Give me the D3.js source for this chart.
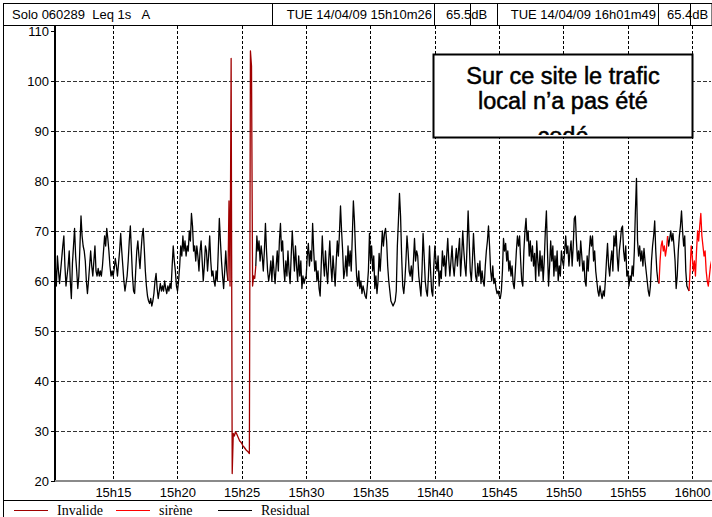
<!DOCTYPE html>
<html>
<head>
<meta charset="utf-8">
<script src="https://cdn.jsdelivr.net/npm/d3@7"></script>
<style>
  html, body { margin: 0; padding: 0; background: #fff; }
  svg { display: block; }
</style>
</head>
<body>
<div id="chart"></div>
<script>
// Leq 1s record, one value every 5 s
const START = '15:10:26';
const END = '16:01:49';
const STEP = 5;

const leq1510 = [68, 63, 59, 65, 62, 59.5, 62, 64.5, 67, 69, 63, 59, 61, 63, 66, 60, 56.5, 63.5, 67, 70.5,
  65, 62, 58.5, 61, 67, 73, 69, 67, 66, 64, 60, 57.5, 60, 63, 66, 63, 61, 64, 67, 62,
  61, 62.5, 61, 62, 61, 63, 66, 69, 67, 70.5, 68.5, 66, 63, 61, 62];
const leq1515 = [61, 62.5, 64.5, 63, 61, 63.5, 66, 69.5, 66, 63, 60, 58, 59.5, 61, 64, 68, 71, 66, 61, 58,
  57.5, 62, 66, 68, 65, 62.5, 66, 69, 70.5, 66.5, 62, 59, 57, 56, 55.5, 56.5, 55, 56, 57.5, 60,
  61.5, 58.5, 56.5, 58, 59.5, 58, 59, 58, 60, 58.5, 57.5, 59, 58, 59.5, 58.5, 63, 67, 64, 62, 59];
const leq1520 = [58, 60, 63, 67, 65, 69, 66, 68, 65, 67, 66, 70, 68, 73.5, 71, 66, 67,
  64, 67, 65, 62, 66, 68, 64, 60, 63, 67, 66, 62, 65, 69, 64, 61,
  62, 60, 59, 62, 60, 66, 72.5, 68, 64, 61, 58.5, 62, 66, 62, 60,
  76, 59, 104.5, 21.5, 29.5, 29, 29.8, 29.5, 29, 28.5, 28, 27.8];
const leq1525 = [27.5, 27, 26.8, 26.5, 26.2, 26, 25.8, 25.5, 106, 103, 59, 61, 60.5, 63, 69, 66, 68, 64, 67, 65,
  62, 66, 71.5, 66, 62, 60, 61.5, 64, 60, 65, 62, 59.5, 63, 66, 62, 68, 71.5, 66, 68, 63,
  60, 64, 61, 66, 62, 59.5, 65, 70, 66, 62, 67, 63, 60, 65, 61, 64, 58.5, 61, 59.5, 60.5];
const leq1530 = [61, 65, 67.5, 63, 66, 64, 71.5, 66, 62, 64, 60, 62, 58.5, 57, 63, 69, 64, 61, 66, 62,
  59.5, 64, 68, 63, 60, 65, 62, 59, 64, 68, 65, 69.5, 75, 70, 66, 60.5, 62, 65, 61, 67,
  63, 66, 62, 69, 76, 72, 66, 61, 59, 62, 58.5, 60, 57.5, 59, 58, 57, 56.5, 59, 62, 69.5];
const leq1535 = [64, 67, 62, 65, 58.5, 61, 57.5, 60, 65.5, 62, 66, 70, 67, 69.5, 70.5, 68, 63, 60, 58, 56,
  55.5, 55, 55.5, 56, 58, 67, 72, 77.5, 73, 65, 59, 57.5, 60, 64, 69, 66, 62, 61, 63, 60,
  64, 68.5, 64, 66, 65, 61, 59, 57, 62, 69.5, 65, 60, 58, 57, 61, 67, 62, 58, 57, 63];
const leq1540 = [67, 64, 62, 65, 59, 62, 60.5, 66, 63, 65, 61, 65, 68.5, 64, 61, 64, 67, 63, 61, 64,
  66.5, 63, 66, 68.5, 61, 65, 70, 66, 63, 61, 67, 74, 68, 62, 60, 64, 69.5, 65, 61, 60,
  63.5, 61, 64, 59.5, 62, 60, 59, 63, 66, 68, 71, 67, 62, 60, 63, 59.5, 60.5, 58.5, 57.5, 58];
const leq1545 = [57, 56.5, 58, 62, 68.5, 66, 67.5, 64, 66, 62, 64, 61, 63, 59.5, 58.5, 62, 66, 69, 67, 69,
  64, 60, 59, 66, 70, 72.5, 68, 70, 65, 68, 64, 67, 63, 65.5, 60, 68, 64, 61, 66, 62,
  65, 60, 64, 70, 74, 66, 59, 63, 68, 64, 67, 61, 65, 62, 66, 60, 63, 61, 66, 64];
const leq1550 = [63, 66, 69, 65.5, 67, 63, 66, 68, 63, 67, 72.5, 73, 68, 64, 66, 63, 68, 65, 62, 64,
  60, 59, 65, 62, 66, 69, 67, 69, 64, 66, 62, 60, 58, 57, 59, 57.5, 56.5, 58, 57, 60,
  64, 67.5, 63, 61, 64, 66, 62, 69, 67, 70, 65, 62, 66, 68, 70.5, 71, 66, 64, 67, 61];
const leq1555 = [62, 59, 61, 60, 63, 61, 66, 74, 80.5, 68, 65, 67, 64, 66, 63, 66.5, 64, 62, 60, 58,
  57, 59, 64, 67, 69, 72, 66, 62, 60, 59.5, 64, 67, 68, 66, 67, 65, 66.5, 69, 67, 68.5,
  70, 68, 69.5, 67, 64, 58.5, 61, 66, 69, 71, 74, 70, 67, 69, 62, 59, 58.5, 58, 62, 67];
const leq1600 = [65, 62, 64, 61, 66, 70, 68, 71, 73.5, 69, 67, 65, 66, 62, 60, 59, 61, 63, 64, 62, 63, 62];

// coded periods
const invalidSpans = [['15:23:56', '15:26:01']];
const sireneSpans = [['15:57:26', '15:58:01'], ['15:59:46', '16:01:49']];

const seriesNames = ['Invalide', 'sirène', 'Residual'];
const yTicks = [20, 30, 40, 50, 60, 70, 80, 90, 100, 110];
const xTicks = ['15:15', '15:20', '15:25', '15:30', '15:35', '15:40', '15:45', '15:50', '15:55', '16:00'];
const headerTexts = ['Solo 060289  Leq 1s   A', 'TUE 14/04/09 15h10m26', '65.5dB', 'TUE 14/04/09 16h01m49', '65.4dB'];
const noteLines = ['Sur ce site le trafic', 'local n’a pas été', 'codé'];

const palette = {
  Invalide: '#a00000',
  'sirène': '#ff0000',
  Residual: '#000000',
  grid: '#333',
  axisX: '#8a8a8a'
};

(function () {
  const W = 712, H = 517;
  const sans = '"Liberation Sans", Arial, sans-serif';
  const serif = '"Liberation Serif", "Times New Roman", serif';

  const svg = d3.select('#chart').append('svg')
    .attr('width', W).attr('height', H)
    .style('font-family', sans);

  const parseT = d3.timeParse('%H:%M:%S');
  const parseHM = d3.timeParse('%H:%M');
  const t0 = parseT(START);

  const x = d3.scaleTime()
    .domain([t0, parseT(END)])
    .range([54.2, 715.4]);
  const y = d3.scaleLinear().domain([20, 110]).range([481, 31]);

  const plot = { left: 55, right: 711, top: 26, bottom: 481 };

  // frame
  svg.append('line').attr('x1', 3.5).attr('x2', 3.5).attr('y1', 3).attr('y2', H)
    .attr('stroke', '#000').attr('stroke-width', 1);
  svg.append('line').attr('x1', 3).attr('x2', W).attr('y1', 500.5).attr('y2', 500.5)
    .attr('stroke', '#000').attr('stroke-width', 1);

  // header row
  const cells = [[3.5, 272.5], [272.5, 434.5], [434.5, 470.5], [470.5, 497.5], [497.5, 658.5], [658.5, 690.5], [690.5, 712]];
  svg.append('g').selectAll('rect').data(cells).join('rect')
    .attr('x', d => d[0]).attr('y', 3.5)
    .attr('width', d => d[1] - d[0]).attr('height', 22)
    .attr('fill', 'none').attr('stroke', '#000').attr('stroke-width', 1);

  const head = svg.append('g').attr('font-size', 13).attr('fill', '#000');
  head.append('text').attr('x', 12).attr('y', 19).style('white-space', 'pre').text(headerTexts[0]);
  head.append('text').attr('x', 432).attr('y', 19).attr('text-anchor', 'end').text(headerTexts[1]);
  head.append('text').attr('x', 446).attr('y', 19).text(headerTexts[2]);
  head.append('text').attr('x', 656).attr('y', 19).attr('text-anchor', 'end').text(headerTexts[3]);
  head.append('text').attr('x', 667).attr('y', 19).text(headerTexts[4]);
  // cell borders drawn over the dB text, as in the original
  head.append('line').attr('x1', 470.5).attr('x2', 470.5).attr('y1', 3.5).attr('y2', 25.5).attr('stroke', '#000');
  head.append('line').attr('x1', 690.5).attr('x2', 690.5).attr('y1', 3.5).attr('y2', 25.5).attr('stroke', '#000');

  // grid
  const grid = svg.append('g');
  grid.selectAll('line.h').data(yTicks.filter(v => v > 20 && v < 110)).join('line')
    .attr('class', 'h')
    .attr('x1', plot.left).attr('x2', plot.right)
    .attr('y1', d => Math.round(y(d)) + 0.5).attr('y2', d => Math.round(y(d)) + 0.5)
    .attr('stroke', palette.grid).attr('stroke-dasharray', '4,2');
  grid.selectAll('line.v').data(xTicks).join('line')
    .attr('class', 'v')
    .attr('x1', d => Math.round(x(parseHM(d))) + 0.5).attr('x2', d => Math.round(x(parseHM(d))) + 0.5)
    .attr('y1', plot.top).attr('y2', plot.bottom)
    .attr('stroke', '#000').attr('stroke-dasharray', '3,2');

  // series
  const leq = [].concat(leq1510, leq1515, leq1520, leq1525, leq1530, leq1535,
    leq1540, leq1545, leq1550, leq1555, leq1600);
  const pts = leq.map((v, i) => ({ t: new Date(t0.getTime() + i * STEP * 1000), v }));

  const inSpans = (t, spans) => spans.some(s => t >= parseT(s[0]) && t <= parseT(s[1]));
  const kind = t => inSpans(t, invalidSpans) ? seriesNames[0]
    : inSpans(t, sireneSpans) ? seriesNames[1] : seriesNames[2];

  const runs = [];
  let cur = null;
  pts.forEach(p => {
    const k = kind(p.t);
    if (!cur || cur.kind !== k) {
      if (cur) cur.pts.push(p);
      cur = { kind: k, pts: [p] };
      runs.push(cur);
    } else cur.pts.push(p);
  });

  svg.append('clipPath').attr('id', 'plotClip').append('rect')
    .attr('x', plot.left).attr('y', plot.top)
    .attr('width', plot.right - plot.left).attr('height', plot.bottom - plot.top);

  const line = d3.line().x(d => x(d.t)).y(d => y(d.v));
  const order = { Residual: 0, Invalide: 1, 'sirène': 2 };
  svg.append('g').attr('clip-path', 'url(#plotClip)')
    .selectAll('path')
    .data(runs.slice().sort((a, b) => order[a.kind] - order[b.kind]))
    .join('path')
    .attr('d', d => line(d.pts))
    .attr('fill', 'none')
    .attr('stroke', d => palette[d.kind])
    .attr('stroke-width', 1.3)
    .attr('stroke-linejoin', 'round');

  // axes
  const yAxis = svg.append('g')
    .attr('transform', `translate(${plot.left},0)`)
    .call(d3.axisLeft(y).tickValues(yTicks).tickSize(4).tickSizeOuter(0).tickPadding(2));
  yAxis.select('.domain').remove();
  yAxis.selectAll('line').attr('stroke', '#000');
  yAxis.selectAll('text').attr('font-size', 13).attr('font-family', sans).attr('fill', '#000');
  svg.append('line').attr('x1', plot.left).attr('x2', plot.left)
    .attr('y1', plot.top).attr('y2', plot.bottom + 1)
    .attr('stroke', '#000').attr('stroke-width', 2);

  const xAxis = svg.append('g')
    .attr('transform', `translate(0,${plot.bottom})`)
    .call(d3.axisBottom(x).tickValues(xTicks.map(parseHM))
      .tickFormat(d3.timeFormat('%Hh%M')).tickSize(0).tickPadding(7));
  xAxis.select('.domain').remove();
  xAxis.selectAll('text').attr('font-size', 13).attr('font-family', sans).attr('fill', '#000');
  svg.append('line').attr('x1', plot.left).attr('x2', W)
    .attr('y1', plot.bottom).attr('y2', plot.bottom)
    .attr('stroke', palette.axisX).attr('stroke-width', 2);

  // legend
  const legend = svg.append('g').attr('font-family', serif).attr('font-size', 14);
  const legX = [14, 116, 218];
  seriesNames.forEach((name, i) => {
    legend.append('line')
      .attr('x1', legX[i]).attr('x2', legX[i] + 34)
      .attr('y1', 510.5).attr('y2', 510.5)
      .attr('stroke', palette[name]).attr('stroke-width', 1.2);
    legend.append('text').attr('x', legX[i] + 43).attr('y', 515).text(name);
  });

  // note box
  const note = svg.append('g');
  note.append('rect').attr('x', 433.5).attr('y', 54.5).attr('width', 259).attr('height', 83)
    .attr('fill', '#fff').attr('stroke', '#000').attr('stroke-width', 2);
  note.append('clipPath').attr('id', 'noteClip').append('rect')
    .attr('x', 434).attr('y', 55).attr('width', 258).attr('height', 80);
  note.append('g').attr('clip-path', 'url(#noteClip)')
    .selectAll('text').data(noteLines).join('text')
    .attr('x', 563).attr('y', (d, i) => 84 + i * 25 + (i === 2 ? 10 : 0))
    .attr('text-anchor', 'middle')
    .attr('font-size', 23.5)
    .attr('font-family', sans)
    .attr('fill', '#000')
    .attr('stroke', '#000')
    .attr('stroke-width', 0.5)
    .text(d => d);
})();
</script>
</body>
</html>
